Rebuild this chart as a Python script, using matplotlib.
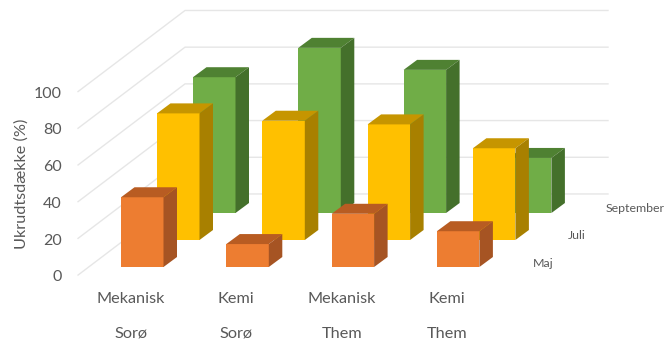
#!/usr/bin/env python3
"""Ukrudtsdaekke per behandling og maaned, skraat 3D-soejlediagram."""

import matplotlib
matplotlib.use("Agg")
import matplotlib.pyplot as plt
from matplotlib.patches import Polygon

plt.rcParams["font.family"] = ["Lato", "DejaVu Sans"]

methods = ["Mekanisk", "Kemi", "Mekanisk", "Kemi"]
sites = ["Sorø", "Sorø", "Them", "Them"]
months = ["Maj", "Juli", "September"]
maj = [38, 12.5, 29, 19.5]
juli = [69, 65, 63, 50]
september = [74, 90, 78, 30]
yticks = [0, 20, 40, 60, 80, 100]

# front, top, side
COLORS = [
    ("#ED7D31", "#B85C22", "#A65423"),
    ("#FFC000", "#C69500", "#A88000"),
    ("#70AD47", "#4F8132", "#44702B"),
]
TEXT = "#595959"

# one x unit = distance between groups, one y unit = 1 % cover
PX_X, PX_Y = 105.3, 1.835
WIDTH = 42.5 / PX_X
ROW_DX, ROW_DY = 36 / PX_X, 27 / PX_Y    # shift per month row
SIDE_DX, SIDE_DY = 13.5 / PX_X, 10 / PX_Y    # bar depth

fig = plt.figure(figsize=(6.65, 3.41), dpi=100)
ax = fig.add_axes([0, 0, 1, 1])
ax.set_xlim(-121 / PX_X, (665 - 121) / PX_X)
ax.set_ylim((267 - 341) / PX_Y, 267 / PX_Y)
ax.axis("off")

# grid: oblique side wall and flat back wall
for v in yticks:
    x_wall = [-0.408, 0.608, 4.625]
    y_wall = [v - 4.4, v + 39.8, v + 39.8]
    ax.plot(x_wall, y_wall, color="#E6E6E6", lw=1, zorder=1)
    ax.text(-0.56, v - 5.6, str(v), color=TEXT, fontsize=11.5,
            ha="right", va="center")

# back row first so the front rows cover it
for row, values in reversed(list(enumerate([maj, juli, september]))):
    front, top, side = COLORS[row]
    z = 5 - row
    for i, val in enumerate(values):
        x0 = i + row * ROW_DX
        y0 = row * ROW_DY
        x1 = x0 + WIDTH
        y1 = y0 + val
        ax.bar(x0, val, WIDTH, bottom=y0, align="edge", color=front, zorder=z)
        ax.add_patch(Polygon(
            [(x0, y1), (x1, y1), (x1 + SIDE_DX, y1 + SIDE_DY),
             (x0 + SIDE_DX, y1 + SIDE_DY)], color=top, lw=0, zorder=z))
        ax.add_patch(Polygon(
            [(x1, y0), (x1, y1), (x1 + SIDE_DX, y1 + SIDE_DY),
             (x1 + SIDE_DX, y0 + SIDE_DY)], color=side, lw=0, zorder=z))

for i, (method, site) in enumerate(zip(methods, sites)):
    ax.text(i + 0.095, -17.3, method, color=TEXT, fontsize=11.7,
            ha="center", va="center")
    ax.text(i + 0.095, -36.3, site, color=TEXT, fontsize=11.7,
            ha="center", va="center")

for month, x, y in zip(months, [3.912, 4.245, 4.6], [2, 17, 32]):
    ax.text(x, y, month, color=TEXT, fontsize=8.9, ha="left", va="center")

ax.text(-0.94, 45.5, "Ukrudtsdække (%)", color=TEXT, fontsize=11.7,
        rotation=90, ha="center", va="center")

fig.savefig("out.png", dpi=100)
plt.close(fig)
